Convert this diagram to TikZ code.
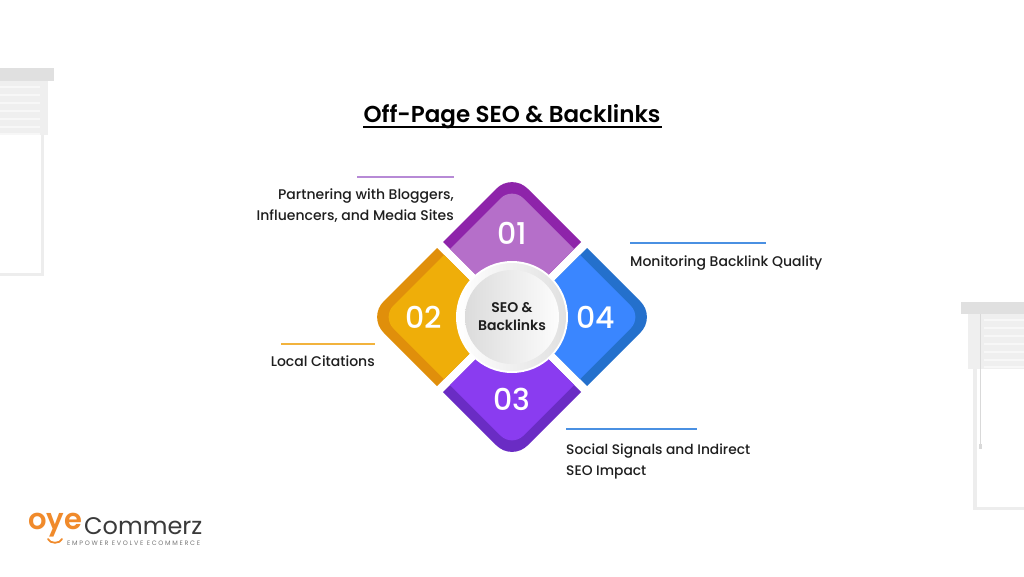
\documentclass[tikz,border=0pt]{standalone}
\usepackage{fontspec}
\setmainfont{Poppins}
\newfontfamily\medfont{Poppins Medium}
\newfontfamily\semifont{Poppins SemiBold}
\usepackage{tikz}

\definecolor{inkc}{HTML}{1E1E1E}
\definecolor{pelmetc}{HTML}{E0E0E0}
\definecolor{slatc}{HTML}{EFEFEF}
\definecolor{framec}{HTML}{EDEDED}
\definecolor{rulepurple}{HTML}{B78AD6}
\definecolor{ruleorange}{HTML}{F2B33D}
\definecolor{ruleblue}{HTML}{4A90E2}
\definecolor{logoorange}{HTML}{F08A2B}
\definecolor{logodark}{HTML}{3A3A3A}
\definecolor{logogrey}{HTML}{777777}

\tikzset{
	lbl/.style={font=\medfont\fontsize{14}{21}\selectfont,text=inkc,inner sep=0pt},
	num/.style={font=\medfont\fontsize{30}{30}\selectfont,text=white,inner sep=0pt},
	rulel/.style={line width=1.3pt}
}

\begin{document}
\begin{tikzpicture}[x=1pt,y=-1pt]
		\useasboundingbox[fill=white] (0,0) rectangle (1024,576);

		\begin{scope}
		    \fill[pelmetc] (0,68) rectangle (54,81);
		    \fill[slatc] (0,81) rectangle (48,135);
		    \foreach \y in {86,94,102,110,118,126,133}
		    	\fill[white!50!slatc] (0,\y) rectangle (40,\y+2);
		    \fill[framec] (41,135) rectangle (44,276);
		    \fill[framec] (0,273) rectangle (44,276);

		    \fill[pelmetc] (961,302) rectangle (1024,314);
		    \fill[slatc] (968,314) rectangle (1024,369);
		    \foreach \y in {319,327,335,343,351,359,366}
		    	\fill[white!50!slatc] (984,\y) rectangle (1024,\y+2);
		    \fill[framec] (973,369) rectangle (977,510);
		    \fill[framec] (973,507) rectangle (1024,510);
		    \draw[black!15,line width=0.7pt] (980,314) -- (980,446);
		    \fill[black!15] (979,444) rectangle (981.5,449);
		\end{scope}

		\node[font=\semifont\fontsize{23}{23}\selectfont,text=black,inner sep=0pt] (title) at (512,117) {Off-Page SEO \& Backlinks};
		\coordinate (titleL) at (363,127);
		\coordinate (titleR) at (662,127);
		\draw[black,line width=1.4pt] (titleL) -- (titleR);

		\foreach \ang/\dark/\light in {0/8E24AA/B56FC9,90/E08F0B/EFAE09,180/6A2CC4/8A3CF0,270/2470CC/3A86FF} {
			\definecolor{darkc}{HTML}{\dark}
			\definecolor{lightc}{HTML}{\light}
			\begin{scope}[shift={(512,317)},rotate=\ang]
				\fill[darkc] (-69,-75) [rounded corners=22] -- (0,-144) [sharp corners] -- (69,-75) -- (0,-6) -- cycle;
				\fill[lightc] (-62,-68) [rounded corners=16] -- (0,-130) [sharp corners] -- (62,-68) -- (0,-6) -- cycle;
			\end{scope}
		}

		\begin{scope}[every node/.style={num}]
		    \node (n1) at (512,233) {01};
		    \node (n2) at (424,317) {02};
		    \node (n3) at (512,399) {03};
		    \node (n4) at (596,317) {04};
		\end{scope}

		\fill[white] (512,317) circle (56);
		\shade[left color=white,right color=black!12] (512,317) circle (54);
		\shade[left color=black!14,right color=black!1] (512,317) circle (47);
		\node[font=\semifont\fontsize{14}{18}\selectfont,text=inkc,align=center,inner sep=0pt] (hub) at (512,317) {SEO \&\\Backlinks};

		\coordinate (r1a) at (357,177);
		\coordinate (r1b) at (454,177);
		\coordinate (r2a) at (281,344);
		\coordinate (r2b) at (375,344);
		\coordinate (r3a) at (566,429);
		\coordinate (r3b) at (697,429);
		\coordinate (r4a) at (630,243);
		\coordinate (r4b) at (766,243);
		\draw[rulel,rulepurple] (r1a) -- (r1b);
		\draw[rulel,ruleorange] (r2a) -- (r2b);
		\draw[rulel,ruleblue] (r3a) -- (r3b);
		\draw[rulel,ruleblue] (r4a) -- (r4b);

		\begin{scope}[every node/.style={lbl}]
		    \node[align=right,anchor=east] (t1) at (454,206) {Partnering with Bloggers,\\Influencers, and Media Sites};
		    \node[anchor=east] (t2) at (375,361) {Local Citations};
		    \node[align=left,anchor=west,font=\medfont\fontsize{13.8}{21}\selectfont] (t3) at (566,461) {Social Signals and Indirect\\SEO Impact};
		    \node[anchor=west] (t4) at (630,263) {Monitoring Backlink Quality};
		\end{scope}

		\node[font=\semifont\fontsize{29}{29}\selectfont,text=logoorange,inner sep=0pt,anchor=west] (oye) at (28,525) {oye};
		\node[font=\fontsize{24}{24}\selectfont,text=logodark,inner sep=0pt,anchor=west] (commerz) at (84,526) {Commerz};
		\node[font=\fontsize{6.4}{7}\selectfont,text=logogrey,inner sep=0pt,anchor=west] (tagline) at (67,543) {E M P O W E R\ \ E V O L V E\ \ E C O M M E R C E};
		\coordinate (smileL) at (48,539);
		\coordinate (smileR) at (62,539);
		\draw[logoorange,line width=1.8pt,line cap=round] (smileL) .. controls (50,544) and (60,544) .. (smileR);
\end{tikzpicture}
\end{document}
